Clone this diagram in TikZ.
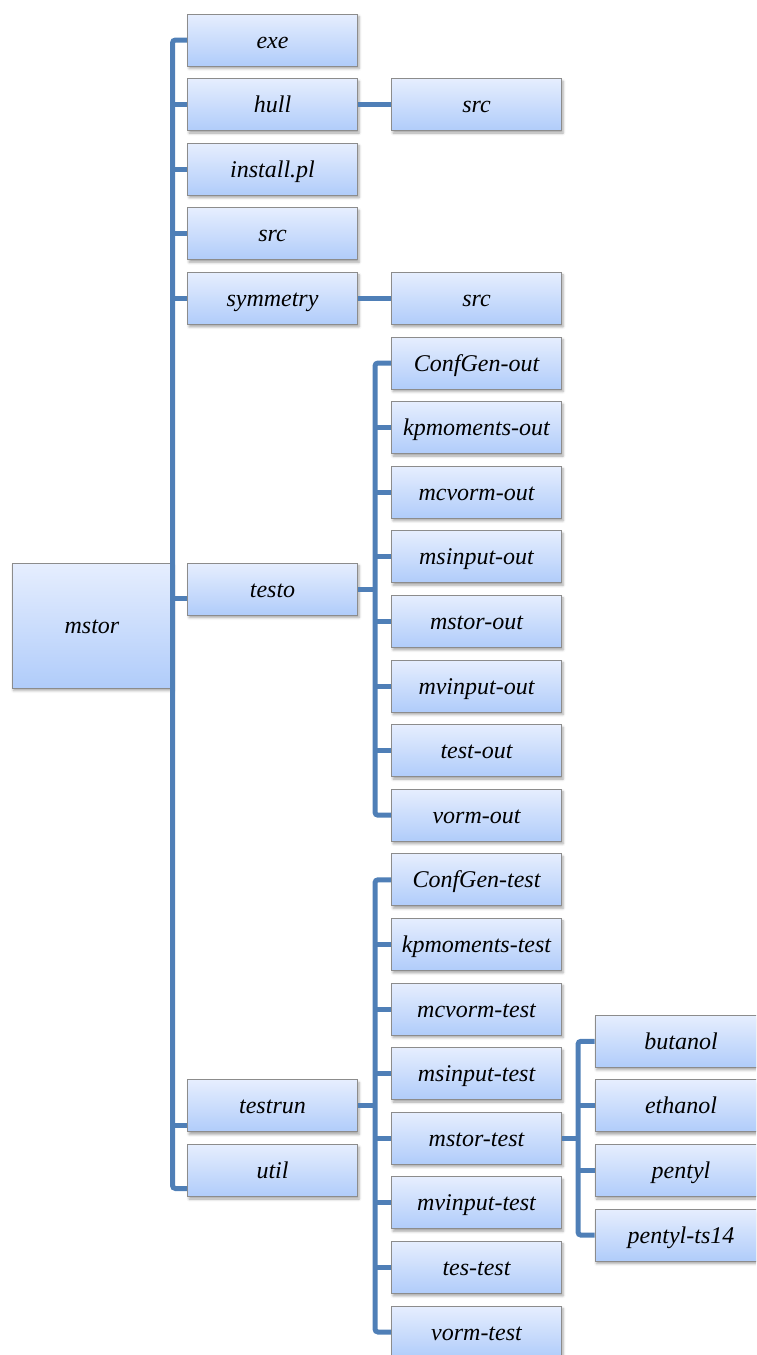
\documentclass[tikz,border=0pt]{standalone}
\usepackage{fontspec}
\setmainfont{Liberation Serif}
\usepackage{xcolor}
\usetikzlibrary{shadows.blur}

\definecolor{boxtop}{HTML}{E6EEFE}
\definecolor{boxbot}{HTML}{B0CCFA}
\definecolor{boxline}{HTML}{8C8C8C}
\definecolor{linkblue}{HTML}{4F7FB7}

\tikzset{
  dirbox/.style={draw=boxline, line width=1pt, top color=boxtop, bottom color=boxbot,
    minimum width=170pt, minimum height=52pt, inner sep=0pt,
    text height=20pt, text depth=4pt,
    font=\fontsize{24}{28}\selectfont\itshape,
    blur shadow={shadow xshift=1.5pt, shadow yshift=-2.5pt,
      shadow blur radius=2.5pt, shadow opacity=35}},
  link/.style={draw=linkblue, line width=5pt, rounded corners=3pt},
}

\begin{document}
\begin{tikzpicture}[x=1pt,y=1pt]
  \useasboundingbox (0,0) rectangle (756,-1355);
  \clip (0,0) rectangle (756,-1355);

  % the root folder
  \node[dirbox, minimum width=160pt, minimum height=125pt] (mstor) at (92,-625.5) {mstor};

  % first level
  \foreach \nm/\txt/\k in {exe/exe/0, hull/hull/1, install/install.pl/2, src/src/3,
      symm/symmetry/4, testo/testo/8.5, testrun/testrun/16.5, util/util/17.5}
    \node[dirbox] (\nm) at (272.5,{-40-64.6*\k}) {\txt};

  % second level
  \node[dirbox] (hullsrc) at (476.5,{-40-64.6*1}) {src};
  \node[dirbox] (symmsrc) at (476.5,{-40-64.6*4}) {src};
  \foreach \txt [count=\k from 5] in {ConfGen-out, kpmoments-out, mcvorm-out, msinput-out,
      mstor-out, mvinput-out, test-out, vorm-out, ConfGen-test, kpmoments-test,
      mcvorm-test, msinput-test, mstor-test, mvinput-test, tes-test, vorm-test}
    \node[dirbox] (c\k) at (476.5,{-40-64.6*\k}) {\txt};

  % third level
  \foreach \nm/\txt/\k in {butanol/butanol/15.5, ethanol/ethanol/16.5,
      pentyl/pentyl/17.5, pentylts/pentyl-ts14/18.5}
    \node[dirbox, minimum width=172pt] (\nm) at (681,{-40-64.6*\k}) {\txt};

  % trunk of mstor
  \coordinate (tr1) at (172.5,0);
  \coordinate (utilstub) at ([yshift=-18pt]util.west);
  \draw[link] (exe.west) -| (tr1 |- utilstub) -- (utilstub);
  \foreach \nm in {hull,install,src,symm}
    \draw[link] (\nm.west) -- (\nm.west -| tr1);
  \draw[link] ([yshift=-9pt]testo.west) -- ([yshift=-9pt]testo.west -| tr1);
  \draw[link] ([yshift=-20pt]testrun.west) -- ([yshift=-20pt]testrun.west -| tr1);

  % single children
  \draw[link] (hull) -- (hullsrc);
  \draw[link] (symm) -- (symmsrc);

  % trunk of testo
  \coordinate (tr2) at (375,0);
  \draw[link] (testo.east) -- (testo.east -| tr2);
  \draw[link] (c5.west) -| (tr2 |- c12.west) -- (c12.west);
  \foreach \k in {6,...,11}
    \draw[link] (c\k.west) -- (c\k.west -| tr2);

  % trunk of testrun
  \draw[link] (testrun.east) -- (testrun.east -| tr2);
  \draw[link] (c13.west) -| (tr2 |- c20.west) -- (c20.west);
  \foreach \k in {14,...,19}
    \draw[link] (c\k.west) -- (c\k.west -| tr2);

  % trunk of mstor-test
  \coordinate (tr3) at (578,0);
  \draw[link] (c17.east) -- (c17.east -| tr3);
  \draw[link] (butanol.west) -| (tr3 |- pentylts.west) -- (pentylts.west);
  \foreach \nm in {ethanol,pentyl}
    \draw[link] (\nm.west) -- (\nm.west -| tr3);

\end{tikzpicture}
\end{document}
